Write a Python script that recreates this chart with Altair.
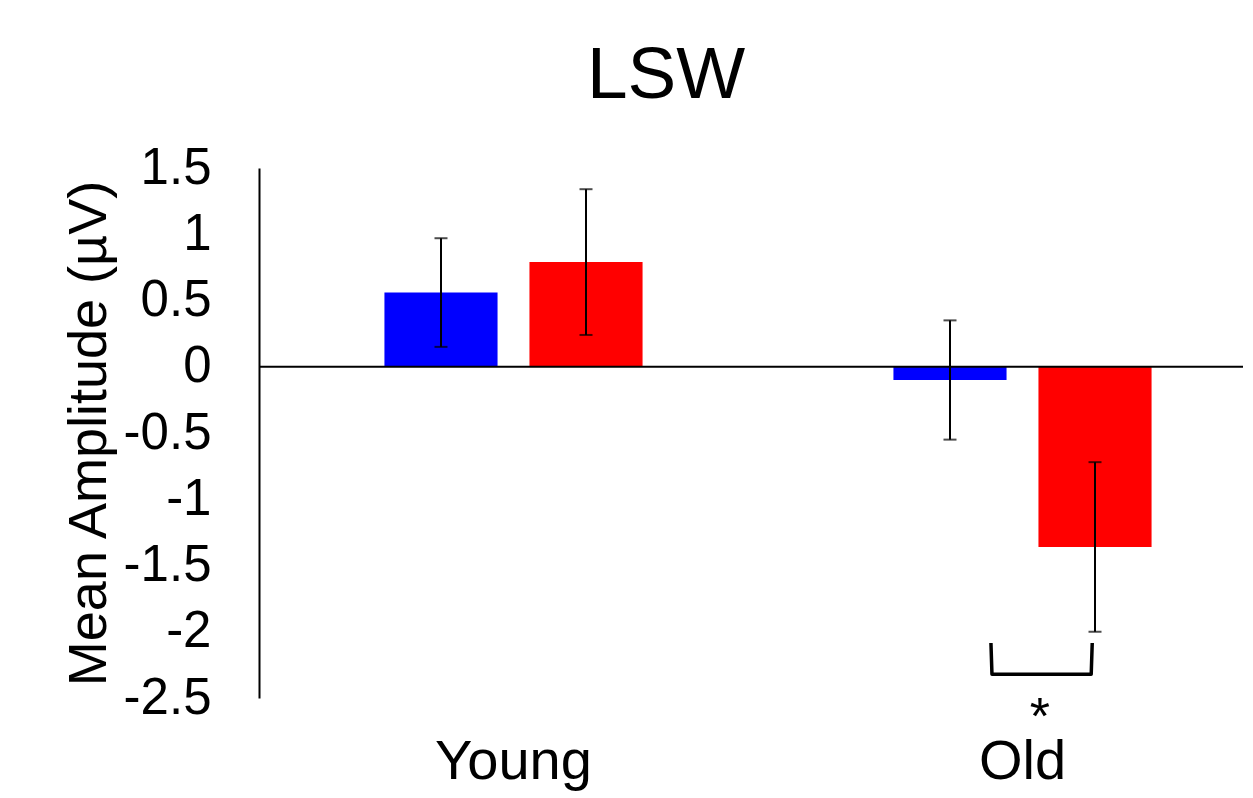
import altair as alt
import pandas as pd

# ---- data ----
groups = ["Young", "Young", "Old", "Old"]
conditions = ["Condition 1", "Condition 2", "Condition 1", "Condition 2"]
means = [0.56, 0.79, -0.10, -1.36]
errors = [0.41, 0.55, 0.45, 0.64]
group_order = ["Young", "Old"]
cond_order = ["Condition 1", "Condition 2"]
bar_colors = ["#0000FF", "#FF0000"]
y_ticks = [-2.5, -2, -1.5, -1, -0.5, 0, 0.5, 1, 1.5]

# significance bracket (x in group-index units, y in data units)
bracket_x = [1.438, 1.440, 1.635, 1.637]
bracket_y = [-2.085, -2.32, -2.32, -2.085]
star_x = [1.534]
star_y = [-2.775]

FONT = "Liberation Sans"

df = pd.DataFrame({"group": groups, "cond": conditions, "mean": means, "err": errors})
df["lo"] = df["mean"] - df["err"]
df["hi"] = df["mean"] + df["err"]
bdf = pd.DataFrame({"bx": bracket_x, "by": bracket_y, "i": list(range(len(bracket_x)))})
sdf = pd.DataFrame({"sx": star_x, "sy": star_y, "t": ["*"]})
zdf = pd.DataFrame({"z": [0]})

xscale = alt.Scale(domain=group_order, paddingInner=0, paddingOuter=0)
offscale = alt.Scale(domain=cond_order, paddingInner=0.22, paddingOuter=0.865)
yscale = alt.Scale(domain=[-2.5, 1.5], nice=False, zero=False)

xaxis = alt.Axis(title=None, labelAngle=0, labelFontSize=56, labelFont=FONT,
                 labelColor="black", labelPadding=80, labelBaseline="alphabetic",
                 domain=False, ticks=False)


def xenc(with_axis=False):
    if with_axis:
        return alt.X("group:N", scale=xscale, sort=group_order, axis=xaxis)
    return alt.X("group:N", scale=xscale, sort=group_order, axis=None)


xoff = alt.XOffset("cond:N", scale=offscale, sort=cond_order)
yaxis = alt.Axis(title="Mean Amplitude (µV)", titleFontSize=54, titleFont=FONT,
                 titleFontWeight="normal", titleColor="black", titlePadding=7,
                 labelFontSize=51, labelFont=FONT, labelColor="black", labelPadding=48,
                 ticks=False, grid=False, domainColor="black", domainWidth=2,
                 values=y_ticks, labelExpr="'' + datum.value")

base = alt.Chart(df)
bars = base.mark_bar().encode(
    x=xenc(True), xOffset=xoff,
    y=alt.Y("mean:Q", scale=yscale, axis=yaxis),
    y2=alt.datum(0),
    color=alt.Color("cond:N", scale=alt.Scale(domain=cond_order, range=bar_colors), legend=None),
)
zero = alt.Chart(zdf).mark_rule(color="black", strokeWidth=2).encode(
    y=alt.Y("z:Q", scale=yscale))
rules = base.mark_rule(color="black", strokeWidth=2).encode(
    x=xenc(), xOffset=xoff, y=alt.Y("lo:Q", scale=yscale), y2="hi:Q")
cap_hi = base.mark_tick(color="black", size=13, thickness=2).encode(
    x=xenc(), xOffset=xoff, y=alt.Y("hi:Q", scale=yscale))
cap_lo = base.mark_tick(color="black", size=13, thickness=2).encode(
    x=xenc(), xOffset=xoff, y=alt.Y("lo:Q", scale=yscale))

qx = alt.Scale(domain=[0, 2], nice=False, zero=False)
bracket = alt.Chart(bdf).mark_line(color="black", strokeWidth=3.5, strokeJoin="round").encode(
    x=alt.X("bx:Q", scale=qx, axis=None), y=alt.Y("by:Q", scale=yscale), order="i:Q")
star = alt.Chart(sdf).mark_text(fontSize=52, font=FONT, baseline="alphabetic", color="black").encode(
    x=alt.X("sx:Q", scale=qx, axis=None), y=alt.Y("sy:Q", scale=yscale), text="t:N")

chart = alt.layer(bars, zero, rules, cap_hi, cap_lo, bracket, star).resolve_scale(
    x="independent"
).properties(
    width=1018, height=530,
    title=alt.TitleParams("LSW", fontSize=73, font=FONT, fontWeight="normal", color="black",
                          anchor="middle", dx=-102, offset=29),
    padding={"left": 54, "top": 32, "right": -35, "bottom": 3},
).configure_view(stroke=None)

chart.save("out.html", embed_options={"renderer": "svg", "actions": False})
